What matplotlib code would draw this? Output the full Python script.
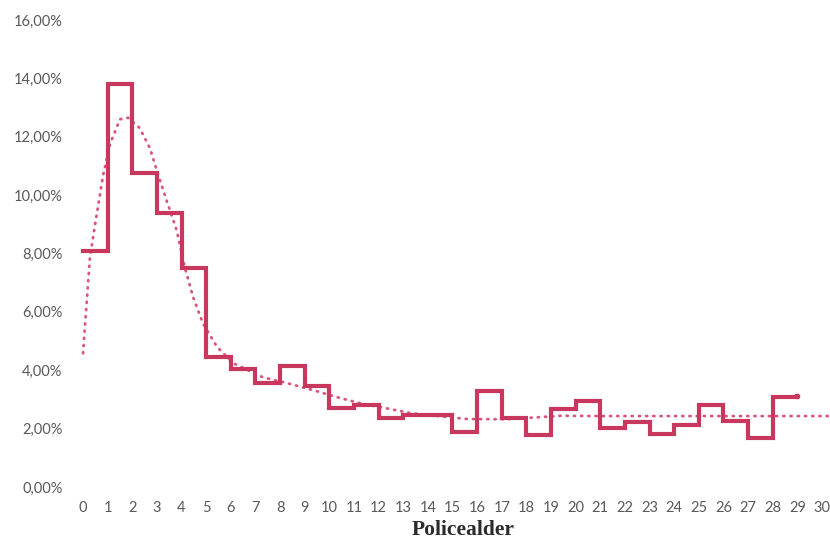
import matplotlib
matplotlib.use("Agg")
import matplotlib.pyplot as plt
from matplotlib.ticker import FuncFormatter

# share of policies per policy age (step line)
policy_age = list(range(0, 30))
share_pct = [8.1, 13.8, 10.75, 9.4, 7.5, 4.44, 4.03, 3.56, 4.14, 3.45,
             2.7, 2.8, 2.36, 2.46, 2.46, 1.88, 3.28, 2.36, 1.78, 2.67,
             2.94, 2.02, 2.22, 1.81, 2.12, 2.8, 2.26, 1.68, 3.08, 3.12]

# dotted trend line
trend_x = [0, 0.28, 0.49, 0.82, 1.1, 1.5, 1.83, 2.3, 2.72, 3.05, 3.4, 3.8,
           4.14, 4.47, 4.87, 5.44, 6.1, 7.3, 8.28, 9.33, 10.3, 11.25, 12.3,
           13.3, 14.5, 15.6, 17.2, 18.3, 19.4, 21, 25, 30.5]
trend_pct = [4.58, 7.86, 9.0, 10.7, 11.76, 12.6, 12.65, 12.3, 11.6, 10.7,
             9.8, 8.8, 7.5, 6.5, 5.6, 4.8, 4.24, 3.76, 3.56, 3.32, 3.08,
             2.87, 2.7, 2.53, 2.42, 2.33, 2.32, 2.38, 2.44, 2.43, 2.43, 2.43]

x_ticks = list(range(0, 31))
y_ticks = [0, 2, 4, 6, 8, 10, 12, 14, 16]

line_color = "#c8375e"
dot_color = "#d9557c"
label_color = "#595959"

fig = plt.figure(figsize=(8.3, 5.42), dpi=100)
ax = fig.add_axes([0.0852, 0.1015, 0.914, 0.8616])

ax.plot(trend_x, trend_pct, linestyle=(0, (0.4, 2.2)), color=dot_color,
        linewidth=2.0, dash_capstyle="round", clip_on=True)
ax.plot(policy_age, share_pct, drawstyle="steps-post", color=line_color,
        linewidth=3.0, solid_joinstyle="miter")
ax.plot(policy_age[-1], share_pct[-1], "o", color=line_color, markersize=3)

ax.set_xlim(-0.5, 30.3)
ax.set_ylim(0, 16)
ax.set_xticks(x_ticks)
ax.set_yticks(y_ticks)
ax.yaxis.set_major_formatter(FuncFormatter(lambda v, p: f"{v:.2f}%".replace(".", ",")))

for s in ax.spines.values():
    s.set_visible(False)
ax.tick_params(axis="both", length=0, labelcolor=label_color, labelsize=10.5)
ax.tick_params(axis="x", pad=10)
ax.tick_params(axis="y", pad=6)
for lab in ax.get_xticklabels() + ax.get_yticklabels():
    lab.set_fontfamily("Lato")

ax.set_xlabel("Policealder", fontfamily="Liberation Serif", fontsize=15.5,
              fontweight="bold", color="#2b2b2b", va="center")
ax.xaxis.set_label_coords(0.517, -0.093)

fig.savefig("out.png", dpi=100)
